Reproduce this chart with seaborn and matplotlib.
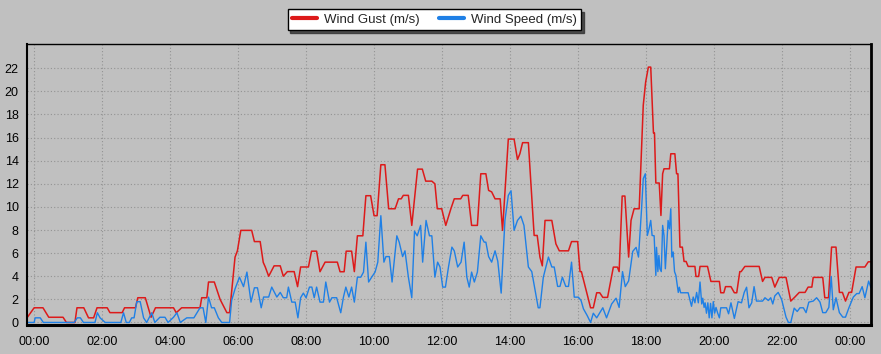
import numpy as np
import pandas as pd
import seaborn as sns
import matplotlib.pyplot as plt
from matplotlib.ticker import MultipleLocator, FixedLocator, FixedFormatter

# ---------------------------------------------------------
#                      DATA  (hours since midnight, m/s)
# ---------------------------------------------------------
gust_t = [-0.21, 0.0, 0.26, 0.43, 0.85, 0.95, 1.2, 1.26, 1.46, 1.6, 1.75, 1.85, 2.15, 2.23, 2.59,
          2.66, 2.98, 3.05, 3.27, 3.44, 3.57, 4.1, 4.18, 4.34, 4.88, 4.93, 5.08, 5.13, 5.3, 5.47,
          5.67, 5.75, 5.91, 5.98, 6.08, 6.4, 6.48, 6.65, 6.74, 6.8, 6.9, 7.06, 7.24, 7.33, 7.45,
          7.65, 7.75, 7.84, 8.07, 8.16, 8.31, 8.41, 8.56, 8.92, 9.0, 9.12, 9.18, 9.34, 9.42, 9.51,
          9.67, 9.76, 9.9, 10.0, 10.09, 10.2, 10.32, 10.43, 10.62, 10.72, 10.8, 10.86, 11.01, 11.11,
          11.28, 11.42, 11.52, 11.7, 11.79, 11.86, 11.99, 12.11, 12.26, 12.36, 12.55, 12.61, 12.77,
          12.87, 13.04, 13.14, 13.29, 13.37, 13.46, 13.56, 13.71, 13.78, 13.95, 14.12, 14.22, 14.29,
          14.37, 14.54, 14.71, 14.8, 14.88, 14.95, 15.03, 15.23, 15.35, 15.45, 15.72, 15.81, 15.99,
          16.06, 16.1, 16.37, 16.45, 16.55, 16.64, 16.73, 16.87, 17.04, 17.16, 17.21, 17.3, 17.38,
          17.49, 17.56, 17.65, 17.8, 17.92, 17.99, 18.07, 18.14, 18.22, 18.25, 18.29, 18.39, 18.44,
          18.49, 18.53, 18.69, 18.73, 18.85, 18.9, 18.94, 19.0, 19.07, 19.12, 19.18, 19.24, 19.44,
          19.47, 19.55, 19.59, 19.81, 19.91, 20.16, 20.2, 20.29, 20.34, 20.5, 20.6, 20.67, 20.76,
          20.8, 20.91, 21.33, 21.43, 21.5, 21.7, 21.79, 21.92, 22.12, 22.26, 22.38, 22.51, 22.68,
          22.77, 22.88, 22.92, 23.2, 23.26, 23.37, 23.46, 23.59, 23.69, 23.78, 23.87, 23.97, 24.05,
          24.18, 24.44, 24.54, 24.62]
gust_v = [0.4, 1.27, 1.27, 0.45, 0.45, 0.0, 0.0, 1.27, 1.27, 0.4, 0.4, 1.27, 1.27, 0.85, 0.85,
          1.27, 1.27, 2.14, 2.14, 0.45, 1.27, 1.27, 0.84, 1.27, 1.27, 2.14, 2.14, 3.5, 3.5, 2.0,
          0.85, 0.85, 5.65, 6.2, 7.97, 7.97, 7.0, 7.0, 5.2, 4.8, 4.0, 4.9, 4.9, 4.0, 4.4,
          4.4, 3.1, 4.8, 4.8, 6.17, 6.17, 4.39, 5.22, 5.22, 4.39, 4.39, 6.17, 6.17, 4.4, 7.5,
          7.5, 10.97, 10.97, 9.24, 9.24, 13.65, 13.65, 9.84, 9.84, 10.7, 10.7, 11.0, 11.0, 8.4,
          13.27, 13.27, 12.23, 12.23, 12.0, 9.84, 9.84, 8.4, 9.84, 10.7, 10.7, 11.0, 11.0,
          8.4, 8.4, 12.87, 12.87, 11.43, 11.3, 10.7, 10.7, 7.97, 15.87, 15.87, 14.1, 14.6,
          15.56, 15.56, 7.53, 7.53, 5.66, 4.9, 8.83, 8.83, 6.8, 6.2, 6.2, 7.0, 7.0,
          4.4, 4.4, 1.27, 1.27, 2.57, 2.57, 2.17, 2.17, 4.79, 4.79, 4.4, 10.94, 10.94,
          5.66, 8.83, 9.84, 9.84, 18.8, 20.8, 22.1, 22.1, 16.4, 16.4, 12.07, 12.07, 9.26,
          12.87, 13.3, 13.3, 14.6, 14.6, 12.87, 12.87, 6.52, 6.52, 5.28, 5.28, 4.85, 4.85,
          3.98, 3.98, 4.85, 4.85, 3.55, 3.55, 2.57, 2.57, 3.1, 3.1, 2.57, 2.57, 4.4,
          4.4, 4.85, 4.85, 3.55, 3.9, 3.9, 3.06, 3.9, 3.9, 1.85, 2.2, 2.6, 2.6,
          3.06, 3.06, 3.9, 3.9, 2.14, 2.14, 6.52, 6.52, 2.6, 2.6, 1.85, 2.6, 2.6,
          4.8, 4.8, 5.25, 5.25]

speed_t = [-0.21, 0.0, 0.03, 0.18, 0.27, 1.18, 1.27, 1.36, 1.45, 1.79, 1.86, 1.94, 2.09, 2.55, 2.63,
           2.71, 2.8, 2.87, 2.94, 3.02, 3.12, 3.22, 3.31, 3.46, 3.55, 3.7, 3.85, 3.94, 4.1, 4.2,
           4.3, 4.49, 4.7, 4.88, 4.97, 5.05, 5.13, 5.22, 5.3, 5.42, 5.52, 5.75, 5.81, 5.91, 6.04,
           6.16, 6.26, 6.38, 6.48, 6.57, 6.68, 6.75, 6.9, 6.99, 7.14, 7.24, 7.33, 7.43, 7.48, 7.58,
           7.68, 7.76, 7.84, 7.92, 8.0, 8.1, 8.17, 8.24, 8.31, 8.41, 8.51, 8.58, 8.69, 8.76, 8.9,
           9.02, 9.1, 9.17, 9.26, 9.34, 9.42, 9.51, 9.61, 9.69, 9.76, 9.84, 9.93, 10.03, 10.11, 10.2,
           10.29, 10.35, 10.45, 10.53, 10.67, 10.74, 10.84, 10.91, 11.01, 11.11, 11.19, 11.27, 11.37,
           11.43, 11.53, 11.63, 11.7, 11.79, 11.87, 11.94, 12.02, 12.1, 12.19, 12.29, 12.36, 12.46,
           12.56, 12.65, 12.73, 12.8, 12.87, 12.95, 13.04, 13.14, 13.24, 13.29, 13.37, 13.46, 13.56,
           13.64, 13.74, 13.85, 13.95, 14.03, 14.12, 14.22, 14.32, 14.41, 14.54, 14.64, 14.74, 14.83,
           14.88, 14.98, 15.13, 15.23, 15.3, 15.4, 15.47, 15.54, 15.64, 15.72, 15.81, 15.89, 16.01,
           16.09, 16.16, 16.27, 16.37, 16.45, 16.55, 16.73, 16.84, 16.99, 17.12, 17.21, 17.31, 17.39,
           17.49, 17.61, 17.71, 17.78, 17.87, 17.92, 17.98, 18.04, 18.09, 18.14, 18.18, 18.24, 18.29,
           18.31, 18.35, 18.38, 18.41, 18.45, 18.49, 18.53, 18.57, 18.61, 18.65, 18.69, 18.73, 18.76,
           18.8, 18.84, 18.88, 18.92, 18.95, 18.98, 19.02, 19.24, 19.29, 19.34, 19.39, 19.44, 19.49,
           19.54, 19.59, 19.64, 19.67, 19.71, 19.74, 19.78, 19.82, 19.86, 19.9, 19.94, 19.98, 20.02,
           20.06, 20.11, 20.16, 20.2, 20.37, 20.43, 20.5, 20.6, 20.71, 20.81, 20.89, 20.96, 21.03,
           21.11, 21.18, 21.25, 21.43, 21.5, 21.6, 21.67, 21.73, 21.79, 21.89, 21.99, 22.12, 22.19,
           22.26, 22.36, 22.45, 22.53, 22.63, 22.71, 22.79, 22.92, 23.02, 23.12, 23.2, 23.29, 23.38,
           23.45, 23.51, 23.59, 23.69, 23.79, 23.87, 23.97, 24.1, 24.2, 24.27, 24.36, 24.44, 24.55,
           24.62]
speed_v = [0.0, 0.0, 0.4, 0.4, 0.0, 0.0, 0.4, 0.4, 0.0, 0.0, 0.84, 0.4, 0.0, 0.0, 0.84,
           0.0, 0.0, 0.4, 0.4, 1.8, 1.8, 0.4, 0.0, 0.84, 0.0, 0.45, 0.45, 0.0, 0.45, 0.84,
           0.0, 0.4, 0.4, 1.27, 1.27, 0.0, 2.19, 1.27, 1.27, 0.4, 0.0, 0.0, 1.9, 2.9, 3.92,
           3.1, 4.36, 1.76, 3.0, 3.0, 1.27, 2.2, 2.2, 3.06, 2.2, 2.6, 2.14, 2.14, 3.06, 1.76,
           1.76, 0.4, 2.14, 2.54, 2.14, 3.06, 3.06, 2.14, 3.06, 1.76, 1.76, 3.5, 1.76, 2.14, 2.14,
           0.84, 2.2, 3.06, 2.2, 3.06, 1.76, 3.92, 3.92, 4.36, 6.95, 3.5, 3.92, 4.36, 5.22, 9.24,
           5.22, 5.7, 5.7, 3.5, 7.5, 6.95, 5.7, 6.2, 3.92, 2.14, 7.9, 7.5, 8.4,
           5.22, 8.83, 7.5, 7.5, 3.92, 5.22, 4.8, 3.06, 3.06, 4.8, 6.52, 6.2, 4.8,
           5.22, 6.95, 3.92, 3.06, 4.36, 3.5, 4.36, 7.5, 6.95, 6.95, 5.7, 5.22, 6.2,
           5.3, 2.54, 8.83, 11.0, 11.4, 7.97, 8.83, 9.2, 8.4, 4.8, 4.4, 2.77, 1.27,
           1.27, 3.92, 5.66, 4.8, 4.8, 3.12, 3.12, 3.92, 3.12, 3.12, 5.22, 2.19, 2.19,
           1.9, 1.18, 0.6, 0.0, 0.8, 0.4, 1.27, 0.4, 1.6, 2.1, 1.3, 4.4, 3.1,
           3.6, 6.15, 6.5, 5.66, 9.84, 12.44, 12.87, 7.53, 8.1, 8.83, 7.53, 7.5, 4.07,
           6.5, 4.4, 5.8, 4.65, 4.4, 8.4, 7.53, 4.65, 6.6, 8.83, 8.1, 9.84, 5.66,
           6.1, 4.4, 4.07, 3.2, 2.6, 3.05, 2.57, 2.57, 2.0, 1.4, 2.2, 1.7, 2.6,
           1.7, 3.5, 1.6, 2.1, 1.3, 1.7, 0.8, 1.7, 0.4, 1.65, 0.4, 1.8, 0.8,
           1.3, 0.8, 0.4, 1.27, 1.27, 0.75, 1.7, 0.35, 1.8, 1.7, 2.6, 3.05, 1.27,
           1.7, 3.1, 1.85, 1.85, 2.14, 1.9, 2.14, 1.6, 2.3, 2.6, 2.0, 0.46, 0.0,
           0.0, 1.24, 0.95, 1.27, 1.27, 0.85, 1.76, 1.85, 2.14, 1.76, 0.85, 0.85, 1.3,
           3.98, 1.1, 2.14, 0.85, 0.46, 0.46, 1.27, 2.2, 2.5, 2.5, 3.1, 2.14, 3.58,
           3.0]

x_ticks = [0, 2, 4, 6, 8, 10, 12, 14, 16, 18, 20, 22, 24]
x_labels = ["00:00", "02:00", "04:00", "06:00", "08:00", "10:00", "12:00",
            "14:00", "16:00", "18:00", "20:00", "22:00", "00:00"]
y_ticks = list(range(0, 24, 2))

gust = pd.DataFrame({"t": gust_t, "v": gust_v})
speed = pd.DataFrame({"t": speed_t, "v": speed_v})

# ---------------------------------------------------------
#                      PLOT
# ---------------------------------------------------------
sns.set_style("white")
plt.rcParams['font.family'] = ['Liberation Sans', 'DejaVu Sans']

bg = "#c0c0c0"
fig = plt.figure(figsize=(8.81, 3.54), dpi=100, facecolor=bg)
ax = fig.add_axes([27/881, 29/354, 844/881, 281/354])
ax.set_facecolor(bg)

sns.lineplot(data=gust, x="t", y="v", ax=ax, color="#dd1a1a", lw=1.1,
             estimator=None, sort=False, label="Wind Gust (m/s)")
sns.lineplot(data=speed, x="t", y="v", ax=ax, color="#1f80e6", lw=1.0,
             estimator=None, sort=False, label="Wind Speed (m/s)")

ax.set_xlim(-0.21, 24.62)
ax.set_ylim(-0.22, 24.1)
ax.set(xlabel="", ylabel="")

ax.xaxis.set_major_locator(FixedLocator(x_ticks))
ax.xaxis.set_major_formatter(FixedFormatter(x_labels))
ax.xaxis.set_minor_locator(MultipleLocator(0.5))
ax.yaxis.set_major_locator(FixedLocator(y_ticks))
ax.yaxis.set_minor_locator(MultipleLocator(0.5))

ax.grid(True, which="major", color="#939393", linestyle=(0, (1, 2)), lw=0.8)
ax.set_axisbelow(True)

ax.tick_params(axis="both", which="major", direction="out", length=4, width=0.8,
               color="#303030", labelsize=9, labelcolor="black", pad=2)
ax.tick_params(axis="both", which="minor", direction="out", length=2, width=0.6,
               color="#505050")
ax.tick_params(axis="x", which="major", length=5, pad=3)

for side, lw in [("left", 1.5), ("bottom", 2.2), ("right", 2.0), ("top", 1.0)]:
    ax.spines[side].set_visible(True)
    ax.spines[side].set_color("black")
    ax.spines[side].set_linewidth(lw)

leg = ax.legend(loc="center", bbox_to_anchor=(434.5/881, 1 - 19.5/354),
                bbox_transform=fig.transFigure, ncol=2, frameon=True, fancybox=False,
                shadow={"color": "#303030", "alpha": 0.8}, framealpha=1, edgecolor="black",
                facecolor="white", fontsize=9.5, handlelength=1.9, handletextpad=0.5,
                columnspacing=1.5, borderpad=0.35, borderaxespad=0)
leg.get_frame().set_linewidth(1.0)
for line in leg.get_lines():
    line.set_linewidth(3)

fig.savefig("out.png", dpi=100, facecolor=bg)
